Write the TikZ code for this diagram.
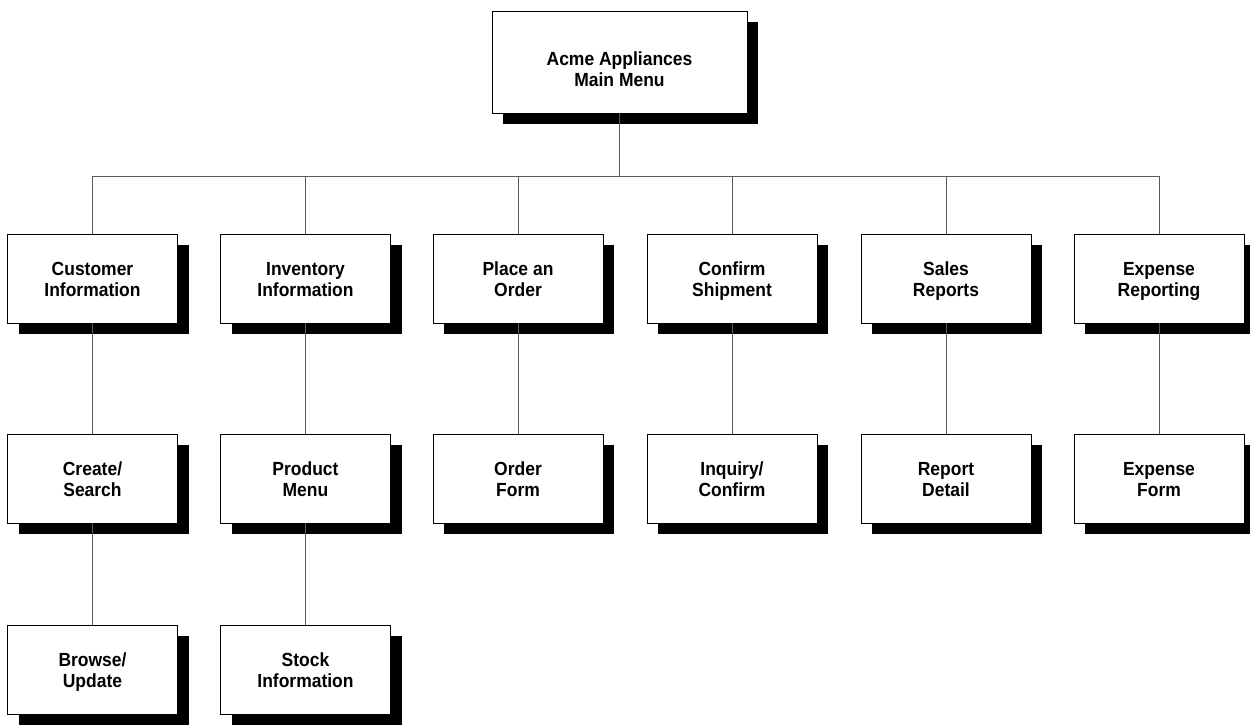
\documentclass[tikz,border=0pt]{standalone}
\usepackage{fontspec}
\setmainfont{Liberation Sans}[FakeStretch=0.92]
\usetikzlibrary{shadows}
% two-line box label with fixed first-line height and last-line depth
\newcommand\twolines[3][20pt]{\rule{0pt}{#1}#2\\#3\rule[-6pt]{0pt}{6pt}}
\begin{document}
\begin{tikzpicture}[x=1pt,y=-1pt,
  menubox/.style={draw=black, line width=0.8pt, fill=white,
    minimum width=170pt, minimum height=89pt, inner sep=0pt,
    align=center, font=\fontsize{19}{21}\selectfont\bfseries,
    drop shadow={shadow xshift=11pt, shadow yshift=-11pt, fill=black, opacity=1}},
  mainbox/.style={menubox, minimum width=255pt, minimum height=102pt},
  link/.style={draw=black!65, line width=0.8pt}]
\useasboundingbox (0,0) rectangle (1250,724);

% top level
\node[mainbox] (main) at (619.5,62) {\twolines[33pt]{Acme Appliances}{Main Menu}};

% first level
\node[menubox] (cust) at (92.5,278.5) {\twolines{Customer}{Information}};
\node[menubox] (inv)  at (305.5,278.5) {\twolines{Inventory}{Information}};
\node[menubox] (ord)  at (518,278.5) {\twolines{Place an}{Order}};
\node[menubox] (ship) at (732,278.5) {\twolines{Confirm}{Shipment}};
\node[menubox] (sales) at (946,278.5) {\twolines{Sales}{Reports}};
\node[menubox] (exp)  at (1159,278.5) {\twolines{Expense}{Reporting}};

% second level
\node[menubox] (create) at (92.5,478.5) {\twolines{Create/}{Search}};
\node[menubox] (prod)   at (305.5,478.5) {\twolines{Product}{Menu}};
\node[menubox] (form)   at (518,478.5) {\twolines{Order}{Form}};
\node[menubox] (inq)    at (732,478.5) {\twolines{Inquiry/}{Confirm}};
\node[menubox] (rep)    at (946,478.5) {\twolines{Report}{Detail}};
\node[menubox] (expf)   at (1159,478.5) {\twolines{Expense}{Form}};

% third level
\node[menubox] (browse) at (92.5,669.5) {\twolines{Browse/}{Update}};
\node[menubox] (stock)  at (305.5,669.5) {\twolines{Stock}{Information}};

% connectors
\coordinate (bus) at (0,176);
\draw[link] (main.south) -- (main.south |- bus);
\draw[link] (cust.north |- bus) -- (exp.north |- bus);
\foreach \n in {cust,inv,ord,ship,sales,exp}
  \draw[link] (\n.north) -- (\n.north |- bus);
\draw[link] (cust.south) -- (create.north);
\draw[link] (create.south) -- (browse.north);
\draw[link] (inv.south) -- (prod.north);
\draw[link] (prod.south) -- (stock.north);
\draw[link] (ord.south) -- (form.north);
\draw[link] (ship.south) -- (inq.north);
\draw[link] (sales.south) -- (rep.north);
\draw[link] (exp.south) -- (expf.north);
\end{tikzpicture}
\end{document}
